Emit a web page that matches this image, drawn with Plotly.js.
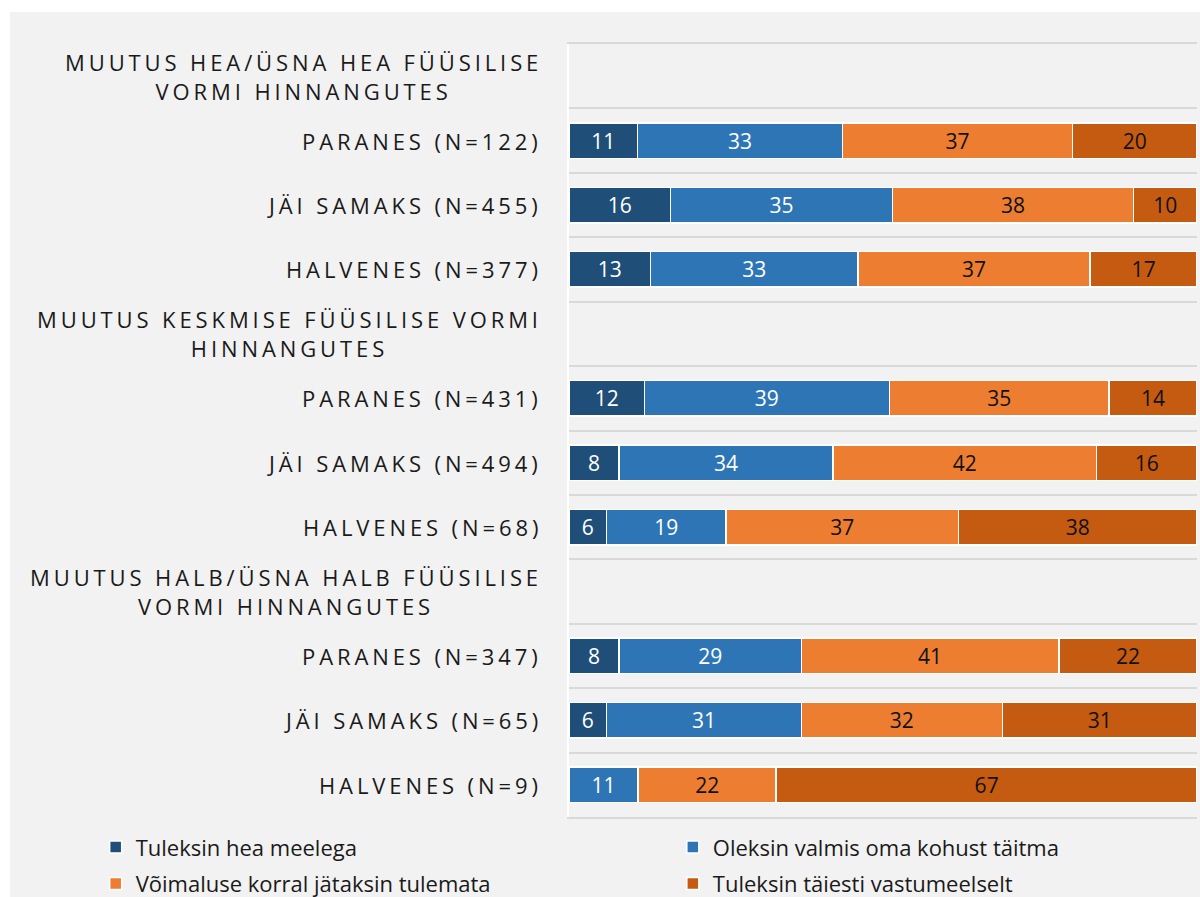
<!DOCTYPE html>
<html>
<head>
<meta charset="utf-8">
<script src="https://cdn.plot.ly/plotly-3.0.1.min.js"></script>
<style>
  html, body { margin: 0; padding: 0; background: #ffffff; }
  #chart { position: absolute; left: 10px; top: 12px; width: 1190px; height: 885px; }
  .annotation-text { letter-spacing: 3.9px; }
</style>
</head>
<body>
<div id="chart"></div>
<script>
// Categories (top to bottom)
const categories = [
  "MUUTUS HEA/ÜSNA HEA FÜÜSILISE<br>VORMI HINNANGUTES",
  "PARANES (N=122)",
  "JÄI SAMAKS (N=455)",
  "HALVENES (N=377)",
  "MUUTUS KESKMISE FÜÜSILISE VORMI<br>HINNANGUTES",
  "PARANES (N=431)",
  "JÄI SAMAKS (N=494)",
  "HALVENES (N=68)",
  "MUUTUS HALB/ÜSNA HALB FÜÜSILISE<br>VORMI HINNANGUTES",
  "PARANES (N=347)",
  "JÄI SAMAKS (N=65)",
  "HALVENES (N=9)"
];
const categoryIds = categories.map((c, i) => "c" + i);

const seriesNames = [
  "Tuleksin hea meelega",
  "Oleksin valmis oma kohust täitma",
  "Võimaluse korral jätaksin tulemata",
  "Tuleksin täiesti vastumeelselt"
];
const heaMeelega   = [null, 11, 16, 13, null, 12,  8,  6, null,  8,  6, null];
const valmisTaitma = [null, 33, 35, 33, null, 39, 34, 19, null, 29, 31, 11];
const jataksin     = [null, 37, 38, 37, null, 35, 42, 37, null, 41, 32, 22];
const vastumeelselt= [null, 20, 10, 17, null, 14, 16, 38, null, 22, 31, 67];

const seriesValues = [heaMeelega, valmisTaitma, jataksin, vastumeelselt];
const colors = ["#1f4e79", "#2e75b6", "#ed7d31", "#c55a11"];
const textColors = ["#ffffff", "#ffffff", "#111111", "#111111"];
const legendOf = ["legend", "legend2", "legend", "legend2"];

const traces = seriesValues.map((vals, k) => ({
  type: "bar",
  orientation: "h",
  name: seriesNames[k],
  legend: legendOf[k],
  legendgroup: "g" + k,
  y: categoryIds,
  x: vals,
  text: vals.map(v => v === null ? "" : String(v)),
  texttemplate: "%{text}",
  textposition: "inside",
  insidetextanchor: "middle",
  textangle: 0,
  constraintext: "none",
  textfont: { family: "Open Sans, sans-serif", size: 21, color: textColors[k] },
  marker: { color: colors[k], line: { color: "#ffffff", width: 1.5 } },
  hoverinfo: "skip"
}));

const annotations = categories.map((c, i) => ({
  xref: "paper", yref: "y",
  x: 0, y: categoryIds[i],
  xanchor: "right", yanchor: "middle",
  xshift: -25,
  text: c,
  align: "center",
  showarrow: false,
  font: { family: "Open Sans, sans-serif", size: 22, color: "#1a1a1a" }
}));

const legendBase = {
  orientation: "v",
  xref: "container", yref: "container",
  y: 0.08, xanchor: "left", yanchor: "top",
  traceorder: "grouped",
  tracegroupgap: 5,
  font: { family: "Open Sans, sans-serif", size: 22, color: "#1a1a1a" },
  bgcolor: "rgba(0,0,0,0)",
  itemclick: false, itemdoubleclick: false
};

const layout = {
  width: 1190, height: 885,
  paper_bgcolor: "#f2f2f2",
  plot_bgcolor: "#f2f2f2",
  margin: { l: 559, r: 3, t: 32, b: 80, autoexpand: false },
  barmode: "stack",
  barnorm: "percent",
  bargap: 0.45,
  showlegend: true,
  xaxis: {
    range: [0, 100],
    showgrid: false, zeroline: false, showticklabels: false, ticks: "",
    showline: true, mirror: true, linecolor: "#d9d9d9", linewidth: 2,
    fixedrange: true
  },
  yaxis: {
    type: "category",
    categoryorder: "array",
    categoryarray: categoryIds,
    autorange: "reversed",
    showticklabels: false,
    tickson: "boundaries",
    ticks: "",
    showgrid: true, gridcolor: "#d9d9d9", gridwidth: 2,
    showline: true, linecolor: "#ffffff", linewidth: 2,
    zeroline: false
  },
  legend: Object.assign({}, legendBase, { x: 0.072 }),
  legend2: Object.assign({}, legendBase, { x: 0.557 }),
  annotations: annotations
};

Plotly.newPlot("chart", traces, layout, { displayModeBar: false, staticPlot: true });
</script>
</body>
</html>
